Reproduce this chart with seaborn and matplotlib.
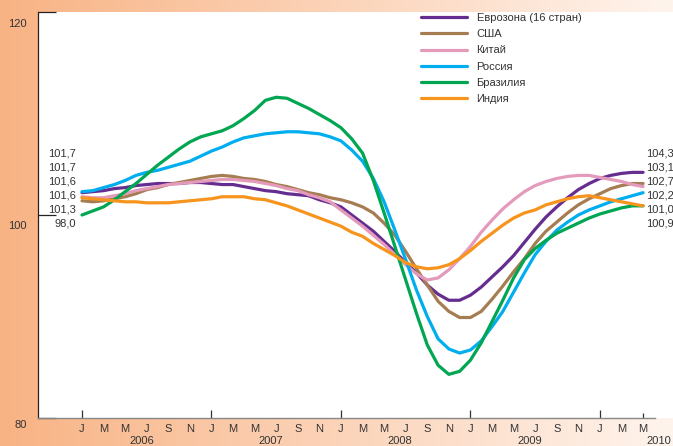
import numpy as np
import pandas as pd
import matplotlib
matplotlib.use("Agg")
import matplotlib.pyplot as plt
from matplotlib.colors import LinearSegmentedColormap
from matplotlib.lines import Line2D
import seaborn as sns

# monthly index, Jan 2006 .. May 2010
months = np.arange(53)

eurozone = [102.2, 102.3, 102.4, 102.6, 102.7, 102.9, 103.0, 103.1, 103.1, 103.1, 103.2, 103.2, 103.1,
            103.0, 103.0, 102.8, 102.6, 102.4, 102.3, 102.1, 102.0, 101.9, 101.5, 101.2, 100.8,
            100.0, 99.2, 98.4, 97.4, 96.4, 95.3, 94.3, 93.1, 92.2, 91.6, 91.6, 92.1,
            92.9, 93.9, 94.9, 96.0, 97.3, 98.6, 99.8, 100.8, 101.7, 102.5, 103.1, 103.6,
            103.9, 104.1, 104.2, 104.2]
usa = [101.4, 101.3, 101.4, 101.6, 101.8, 102.1, 102.5, 102.7, 103.0, 103.2, 103.4, 103.6, 103.8,
       103.9, 103.8, 103.6, 103.5, 103.3, 103.0, 102.8, 102.5, 102.2, 102.0, 101.7, 101.5,
       101.2, 100.8, 100.2, 99.2, 98.0, 96.4, 94.7, 93.1, 91.5, 90.5, 89.9, 89.9,
       90.5, 91.7, 93.0, 94.4, 95.7, 97.2, 98.4, 99.3, 100.2, 101.0, 101.6, 102.1,
       102.6, 102.9, 103.1, 103.1]
china = [101.8, 101.7, 101.7, 101.9, 102.1, 102.4, 102.6, 102.8, 103.0, 103.1, 103.2, 103.3, 103.4,
         103.5, 103.5, 103.4, 103.3, 103.1, 102.9, 102.6, 102.4, 102.0, 101.7, 101.3, 100.5,
         99.7, 98.9, 98.0, 97.1, 96.1, 95.1, 94.2, 93.6, 93.8, 94.6, 95.7, 96.9,
         98.3, 99.5, 100.6, 101.5, 102.3, 102.9, 103.3, 103.6, 103.8, 103.9, 103.9, 103.7,
         103.5, 103.3, 103.0, 102.8]
russia = [102.3, 102.4, 102.7, 103.0, 103.4, 103.9, 104.2, 104.4, 104.7, 105.0, 105.3, 105.8, 106.3,
          106.7, 107.2, 107.6, 107.8, 108.0, 108.1, 108.2, 108.2, 108.1, 108.0, 107.7, 107.3,
          106.4, 105.3, 103.6, 101.3, 98.5, 95.6, 92.6, 90.0, 87.8, 86.8, 86.4, 86.7,
          87.6, 89.0, 90.5, 92.4, 94.3, 96.1, 97.4, 98.5, 99.3, 100.0, 100.5, 100.9,
          101.3, 101.6, 101.9, 102.2]
brazil = [100.0, 100.4, 100.8, 101.5, 102.3, 103.1, 104.0, 104.9, 105.7, 106.5, 107.2, 107.7, 108.0,
          108.3, 108.8, 109.5, 110.3, 111.3, 111.6, 111.5, 111.0, 110.5, 109.9, 109.3, 108.6,
          107.5, 106.1, 103.4, 100.2, 96.9, 93.6, 90.3, 87.2, 85.2, 84.3, 84.6, 85.7,
          87.4, 89.5, 91.6, 93.8, 95.6, 96.7, 97.5, 98.2, 98.7, 99.2, 99.7, 100.1,
          100.4, 100.7, 100.9, 100.9]
india = [101.7, 101.6, 101.5, 101.4, 101.3, 101.3, 101.2, 101.2, 101.2, 101.3, 101.4, 101.5, 101.6,
         101.8, 101.8, 101.8, 101.6, 101.5, 101.2, 100.9, 100.5, 100.1, 99.7, 99.3, 98.9,
         98.3, 97.9, 97.2, 96.6, 96.0, 95.3, 94.9, 94.7, 94.8, 95.1, 95.7, 96.5,
         97.4, 98.2, 99.0, 99.7, 100.2, 100.5, 101.0, 101.3, 101.6, 101.8, 101.9, 101.7,
         101.5, 101.3, 101.1, 100.9]

series_names = ["Еврозона (16 стран)", "США", "Китай", "Россия", "Бразилия", "Индия"]
series_values = [eurozone, usa, china, russia, brazil, india]
colors = ["#662d91", "#a67c52", "#e49bbb", "#00aeef", "#00a651", "#f7941d"]

month_letters = ["J", "M", "M", "J", "S", "N"]
years = ["2006", "2007", "2008", "2009", "2010"]
left_labels = ["101,7", "101,7", "101,6", "101,6", "101,3", "98,0"]
right_labels = ["104,3", "103,1", "102,7", "102,2", "101,0", "100,9"]

df = pd.concat([pd.DataFrame({"month": months, "value": v, "series": n})
                for n, v in zip(series_names, series_values)], ignore_index=True)

sns.set_theme(style="white")
plt.rcParams["font.family"] = ["Liberation Sans", "DejaVu Sans"]
txt = "#333333"

fig = plt.figure(figsize=(6.73, 4.46), dpi=100)

# background gradient
bg = fig.add_axes([0, 0, 1, 1], zorder=0)
cmap = LinearSegmentedColormap.from_list("bg", ["#f8b384", "#fff4ed"])
bg.imshow(np.linspace(0, 1, 256)[None, :], aspect="auto", cmap=cmap, extent=[0, 1, 0, 1])
bg.axis("off")

ax = fig.add_axes([38 / 673, 28 / 446, 635 / 673, 406 / 446], zorder=1)
ax.set_facecolor("white")

sns.lineplot(data=df, x="month", y="value", hue="series", palette=dict(zip(series_names, colors)),
             linewidth=2.3, ax=ax, legend=False, sort=False)

ax.set_xlim(-44 / 10.79, 591 / 10.79)
ax.set_ylim(80, 120)
ax.set_xlabel("")
ax.set_ylabel("")

for s in ["top", "right"]:
    ax.spines[s].set_visible(False)
ax.spines["left"].set_color("#222222")
ax.spines["left"].set_linewidth(0.9)
ax.spines["bottom"].set_color("#888888")
ax.spines["bottom"].set_linewidth(1.0)
ax.spines["bottom"].set_bounds(-44 / 10.79, 573 / 10.79)

# y ticks, labels sit a little below the tick
ax.set_yticks([80, 100, 120])
ax.set_yticklabels([])
ax.tick_params(axis="y", direction="in", length=13, width=0.9, color="#222222", left=True)
for val, dy in zip([80, 100, 120], [-7, -11, -12]):
    ax.annotate(str(val), xy=(0, val), xycoords=("axes fraction", "data"),
                xytext=(-11 * 0.72, dy * 0.72), textcoords="offset points",
                ha="right", va="center", fontsize=8, color=txt)

# x ticks
ax.xaxis.remove_overlapping_locs = False
ax.set_xticks([0, 12, 24, 36, 48, 52])
ax.set_xticklabels([])
ax.tick_params(axis="x", which="major", direction="in", length=6, width=0.9, color="#333333", bottom=True)
ax.xaxis.get_major_ticks()[-1].tick1line.set_markersize(3.6)
ax.set_xticks(np.arange(0, 53, 2), minor=True)
ax.set_xticklabels([month_letters[i % 6] for i in range(27)], minor=True)
ax.tick_params(axis="x", which="minor", length=0, pad=4, labelsize=8, labelcolor=txt)

for i, y in enumerate(years):
    xpos = 5.5 + 12 * i if i < 4 else 53.5
    ax.annotate(y, xy=(xpos, 80), xycoords="data", xytext=(0, -23 * 0.72),
                textcoords="offset points", ha="center", va="center",
                fontsize=8, color=txt, annotation_clip=False)

# start / end value labels
for i, lab in enumerate(left_labels):
    fig.text(76 / 673, 1 - (153 + 14.2 * i) / 446, lab, ha="right", va="center", fontsize=8, color=txt)
for i, lab in enumerate(right_labels):
    fig.text(646 / 673, 1 - (153 + 14.2 * i) / 446, lab, ha="left", va="center", fontsize=8, color=txt)

handles = [Line2D([], [], color=c, lw=2.3) for c in colors]
ax.legend(handles, series_names, loc="upper left", bbox_to_anchor=(421 / 673, 1 - 13 / 446),
          bbox_transform=fig.transFigure, frameon=False, fontsize=8, handlelength=4.1,
          handletextpad=0.9, labelspacing=0.56, borderaxespad=0, borderpad=0, labelcolor=txt)

fig.savefig("out.png", dpi=100)
